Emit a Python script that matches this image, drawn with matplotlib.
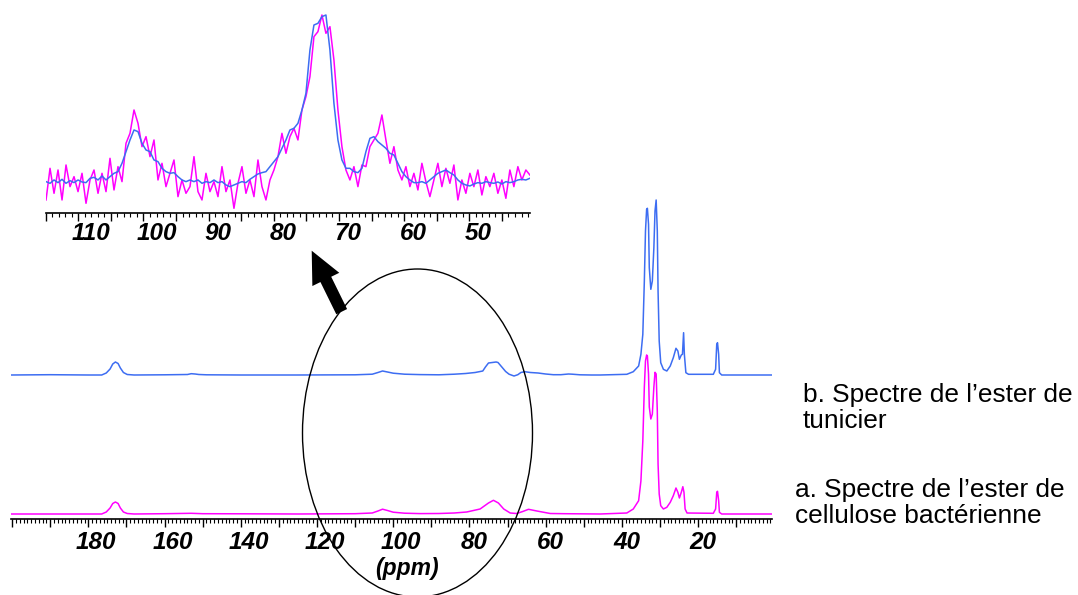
import numpy as np
import matplotlib
matplotlib.use("Agg")
import matplotlib.pyplot as plt
import matplotlib.transforms as mtransforms
from matplotlib.patches import Ellipse, FancyArrow
from matplotlib.ticker import MultipleLocator

plt.rcParams['font.family'] = ['Liberation Sans', 'DejaVu Sans']

# ---------------- data ----------------
# Main spectrum, tunicate ester (b), ppm and intensity above its baseline
blue_ppm = [200.3, 190, 180, 176.5, 175.3, 174.3, 173.6, 172.9, 172.2, 171.6, 170.8, 169.8, 168,
            160, 154, 153, 152, 151, 149, 140, 125, 110, 105.5, 104, 102.8, 101.5, 100, 97, 93, 88,
            84, 81, 78.5, 76.5, 75.8, 75, 74, 73, 72.5, 71.5, 70.5, 69.6, 68.3, 67.3, 66.5, 65.5,
            64, 62, 60, 58, 56, 54, 53, 51, 48, 45.7, 38.7, 37.0, 35.6, 35.0, 34.5, 34.1, 33.8,
            33.5, 33.3, 33.0, 32.8, 32.4, 32.0, 31.6, 31.3, 31.0, 30.7, 30.5, 30.2, 29.8, 29.1,
            28.2, 27.3, 26.5, 25.8, 25.3, 24.9, 24.4, 24.1, 23.8, 23.6, 23.2, 22.5, 16.0, 15.4,
            15.1, 14.9, 14.6, 14.4, 13.8, 0.6]
blue_int = [0, 0.3, 0, 0, 2, 6, 11, 13, 11.5, 7, 2.5, 0.5, 0,
            0.2, 0.5, 1.3, 1.0, 0.5, 0.2, 0, 0, 0.2, 0.8, 2.5, 4, 3, 1.8, 0.8, 0.4, 0.2,
            0.8, 1.5, 2.5, 4, 8, 12, 12.5, 13, 12.5, 8, 3.5, 0.8, -1.0, 0.3, 2.5, 3.3,
            2.5, 2, 1, 0.3, 0.3, 1, 0.8, 0.2, 0, 0, 0.7, 3.3, 9, 20.7, 40.7, 94, 144,
            165.7, 166.7, 150.7, 107.3, 85.7, 94, 127.3, 164, 175, 144, 84, 34, 12.3, 5.7,
            4, 9, 17.3, 26.7, 24, 15.7, 20, 20.7, 42.3, 20.7, 2.3, 0.7, 0.7, 5.7,
            30.7, 32.3, 20.7, 2.3, 0, 0]

# Main spectrum, bacterial cellulose ester (a)
mag_ppm = [200.3, 180, 176.5, 175.3, 174.3, 173.6, 172.9, 172.2, 171.6, 170.8, 169.8, 168,
           160, 153, 150, 140, 125, 110, 105.5, 104, 102.8, 101.5, 100, 97, 93, 88, 84, 80.7,
           77.2, 75, 73.7, 72.4, 71, 69.3, 67.6, 66, 64.5, 62.3, 58.8, 55, 45.7, 38.7, 37,
           35.6, 35.0, 34.5, 34.1, 33.8, 33.5, 33.3, 33.0, 32.8, 32.4, 32.0, 31.6, 31.3, 31.0,
           30.7, 30.5, 30.2, 29.8, 29.1, 28.2, 27.3, 26.5, 25.8, 25.3, 24.9, 24.4, 24.0, 23.7,
           23.4, 22.9, 16.0, 15.4, 15.1, 14.9, 14.6, 14.4, 13.8, 0.6]
mag_int = [0, 0, 0, 2, 6, 10.5, 12, 10.5, 6, 2, 0.5, 0,
           0.3, 0.7, 0.3, 0.2, 0, 0.3, 1, 3, 4.8, 3.5, 1.8, 0.8, 0.4, 0.5, 1, 2,
           5, 11, 13.7, 11, 5, 1, 0.5, 2.5, 4.7, 3, 0.5, 0.3, 0, 1, 5,
           13.3, 33, 73, 127, 153, 159, 158, 140, 107, 95, 100, 127, 141.7, 140,
           103, 50, 20, 8.3, 5, 6.7, 11.7, 18.3, 26, 21.7, 16, 21.7, 27.3, 21.7,
           5, 1, 0.7, 5, 21.7, 22.7, 13.3, 1.7, 0, 0]

# Inset (zoom 115-41 ppm), equally spaced points
inset_ppm_range = (114.95, 40.72)
inset_mag = [40, 135, 60, 130, 40, 145, 80, 110, 65, 120,
             30, 100, 130, 60, 120, 65, 165, 70, 140, 95,
             210, 240, 310, 270, 200, 230, 170, 220, 100, 150,
             80, 120, 160, 50, 100, 60, 80, 170, 65, 40,
             120, 65, 95, 50, 140, 65, 100, 15, 90, 140,
             60, 100, 50, 160, 80, 40, 100, 130, 170, 240,
             180, 230, 255, 220, 310, 350, 410, 530, 545, 595,
             540, 560, 460, 310, 200, 130, 100, 140, 80, 145,
             140, 200, 220, 240, 295, 220, 150, 200, 130, 100,
             140, 80, 120, 70, 150, 95, 50, 100, 150, 80,
             135, 90, 145, 40, 100, 60, 120, 80, 130, 55,
             110, 80, 120, 60, 100, 45, 130, 80, 140, 100,
             130, 115]
inset_blue = [95, 90, 100, 92, 102, 90, 98, 92, 100, 94,
              92, 105, 108, 100, 112, 100, 110, 120, 125, 150,
              185, 220, 250, 245, 210, 190, 185, 160, 155, 135,
              125, 120, 122, 110, 100, 95, 100, 95, 100, 90,
              95, 92, 100, 92, 95, 85, 80, 85, 90, 95,
              92, 102, 110, 118, 122, 125, 140, 155, 170, 195,
              220, 250, 255, 270, 310, 360, 490, 565, 570, 590,
              595, 490, 330, 220, 160, 135, 135, 125, 122, 135,
              185, 225, 230, 215, 205, 195, 180, 175, 150, 125,
              110, 100, 92, 92, 95, 90, 100, 110, 120, 125,
              130, 122, 115, 100, 90, 85, 82, 88, 92, 90,
              95, 92, 90, 94, 88, 95, 92, 95, 100, 102,
              100, 105]

main_tick_labels = [180, 160, 140, 120, 100, 80, 60, 40, 20]
inset_tick_labels = [110, 100, 90, 80, 70, 60, 50]
label_b = ["b. Spectre de l\u2019ester de", "tunicier"]
label_a = ["a. Spectre de l\u2019ester de", "cellulose bact\u00e9rienne"]

# ---------------- styling / layout ----------------
BLUE = "#3d6df2"
MAGENTA = "#ff00ff"
W, H = 1078, 595
fig = plt.figure(figsize=(W / 100, H / 100), dpi=100)


def px_rect(x0, x1, ytop, ybot):
    return [x0 / W, 1 - ybot / H, (x1 - x0) / W, (ybot - ytop) / H]


def style_axis(ax, major, lab_vals, dy_px, dx3, dx2):
    for s in ("top", "left", "right"):
        ax.spines[s].set_visible(False)
    ax.spines["bottom"].set_linewidth(1.2)
    ax.set_yticks([])
    ax.xaxis.set_major_locator(MultipleLocator(major))
    ax.xaxis.set_minor_locator(MultipleLocator(1))
    ax.tick_params(axis="x", which="major", length=5.5, width=1.0, direction="out",
                   labelbottom=False, color="black")
    ax.tick_params(axis="x", which="minor", length=3, width=0.8, direction="out",
                   color="black")
    ax.patch.set_alpha(0)
    blend = mtransforms.blended_transform_factory(ax.transData, ax.transAxes)
    for v in lab_vals:
        dx = dx3 if v >= 100 else dx2
        off = mtransforms.ScaledTranslation(dx / 100, -dy_px / 100, fig.dpi_scale_trans)
        ax.text(v, 0, str(v), transform=blend + off, ha="center", va="top",
                fontsize=17.5, fontweight="bold", fontstyle="italic", color="black")
    return blend


# main axes
ax = fig.add_axes(px_rect(11, 772, 190, 519))
BLUE_BASE, MAG_BASE = 144, 5
ax.plot(blue_ppm, np.array(blue_int) + BLUE_BASE, color=BLUE, lw=1.1)
ax.plot(mag_ppm, np.array(mag_int) + MAG_BASE, color=MAGENTA, lw=1.1)
ax.set_xlim(200.3, 0.6)
ax.set_ylim(0, 329)
blend = style_axis(ax, 10, main_tick_labels, 12, 8, 5)
ax.text(96.5, 0, "(ppm)", transform=blend + mtransforms.ScaledTranslation(0, -50 / 100, fig.dpi_scale_trans),
        ha="center", va="center", fontsize=16.5, fontweight="bold", fontstyle="italic")

# inset axes
axi = fig.add_axes(px_rect(45.7, 530, 0, 213.3))
x_in = np.linspace(inset_ppm_range[0], inset_ppm_range[1], len(inset_mag))
axi.plot(x_in, inset_mag, color=MAGENTA, lw=1.1)
axi.plot(x_in, inset_blue, color=BLUE, lw=1.1)
axi.set_xlim(115.0, 40.7)
axi.set_ylim(0, 640)
style_axis(axi, 5, inset_tick_labels, 8.5, 13, 9)

# overlay: ellipse, arrow, legend texts
ov = fig.add_axes([0, 0, 1, 1])
ov.set_xlim(0, W)
ov.set_ylim(H, 0)
ov.axis("off")
ov.add_patch(Ellipse((417.5, 433), 230, 328, fill=False, edgecolor="black", lw=1.0))
ov.add_patch(FancyArrow(341.7, 311.7, -30, -61, width=12, head_width=30, head_length=32,
                        length_includes_head=True, color="black", lw=0))
ov.text(803, 402, label_b[0], fontsize=18.9, va="baseline", ha="left")
ov.text(803, 428, label_b[1], fontsize=18.9, va="baseline", ha="left")
ov.text(795, 497, label_a[0], fontsize=18.9, va="baseline", ha="left")
ov.text(795, 523, label_a[1], fontsize=18.9, va="baseline", ha="left")

fig.savefig("out.png", dpi=100)
